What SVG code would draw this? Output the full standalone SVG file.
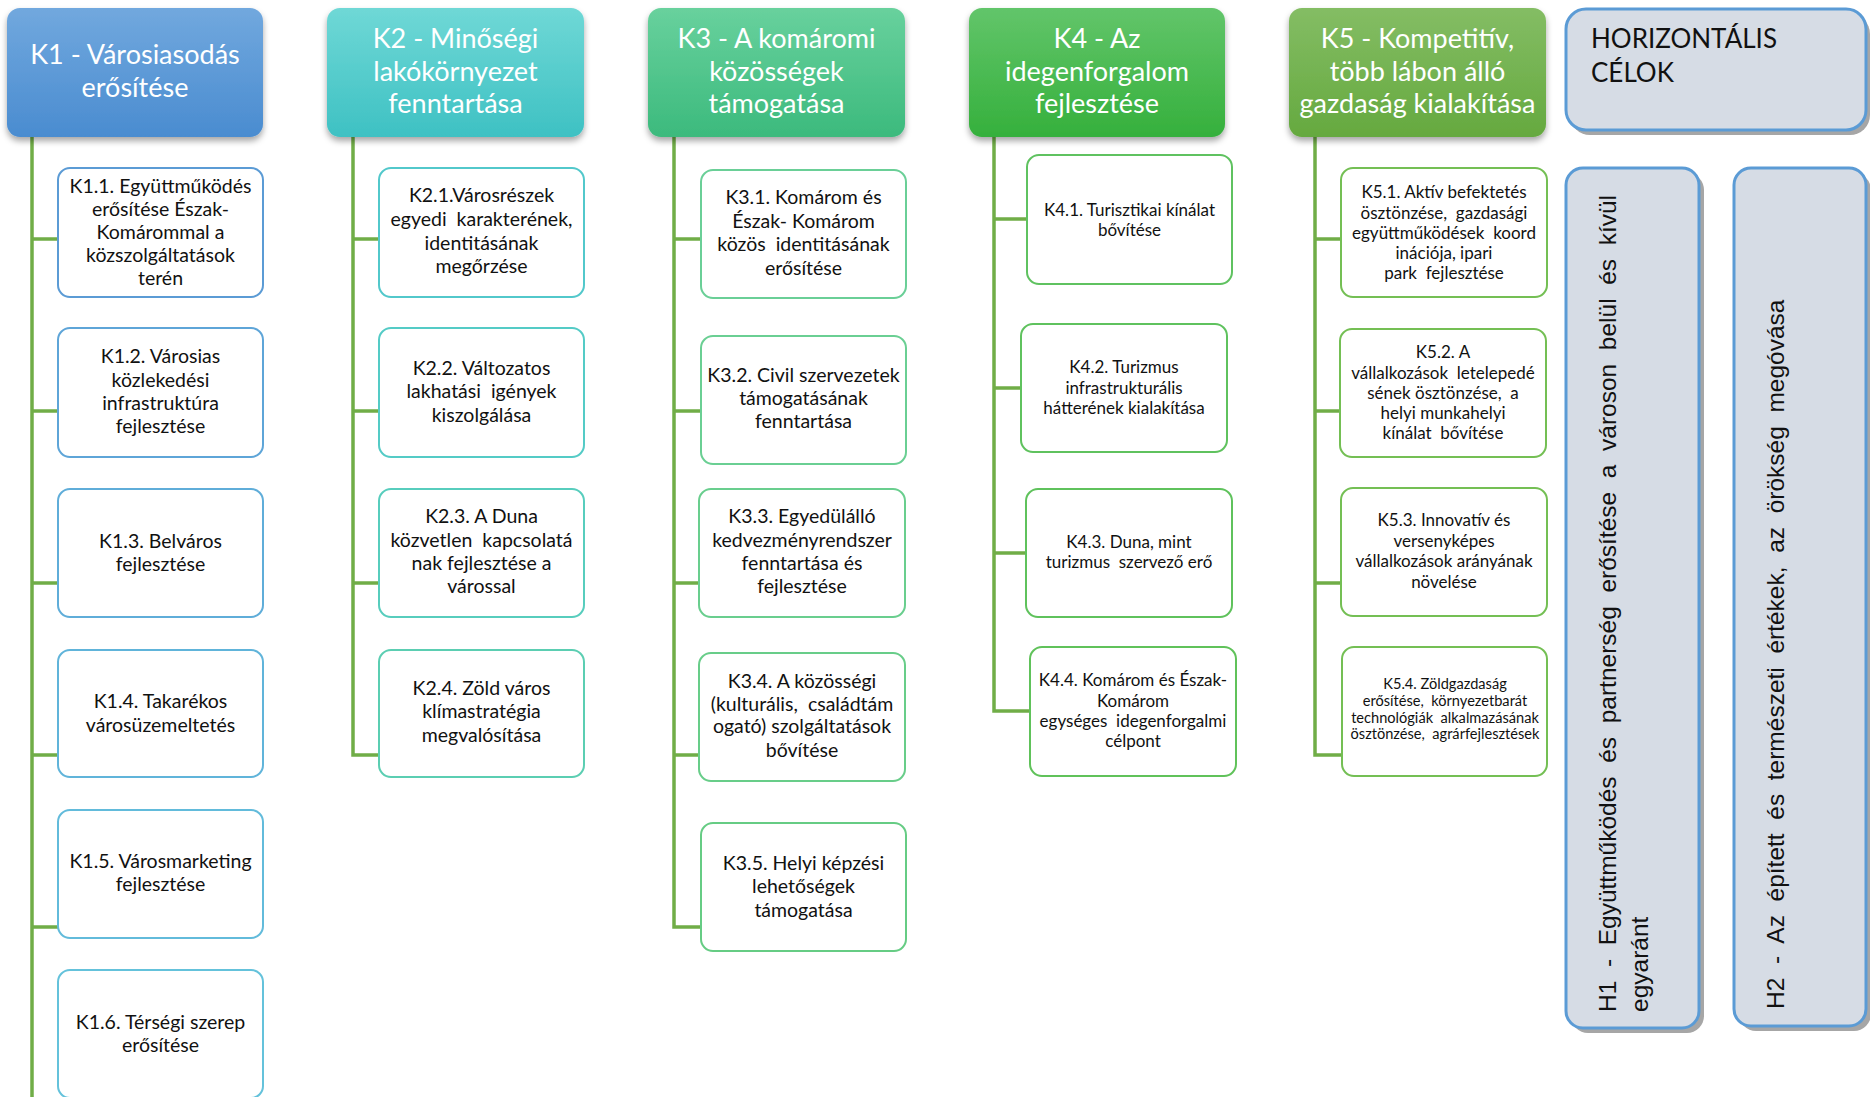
<svg xmlns="http://www.w3.org/2000/svg" width="1870" height="1097" viewBox="0 0 1870 1097" xml:space="preserve">
<defs>
<linearGradient id="g1" x1="0" y1="0" x2="0" y2="1"><stop offset="0" stop-color="#71a8de"/><stop offset="1" stop-color="#4a8cd0"/></linearGradient>
<linearGradient id="g2" x1="0" y1="0" x2="0" y2="1"><stop offset="0" stop-color="#6fd8d6"/><stop offset="1" stop-color="#3ec1c3"/></linearGradient>
<linearGradient id="g3" x1="0" y1="0" x2="0" y2="1"><stop offset="0" stop-color="#68d19d"/><stop offset="1" stop-color="#3cba7d"/></linearGradient>
<linearGradient id="g4" x1="0" y1="0" x2="0" y2="1"><stop offset="0" stop-color="#62c56a"/><stop offset="1" stop-color="#35b03c"/></linearGradient>
<linearGradient id="g5" x1="0" y1="0" x2="0" y2="1"><stop offset="0" stop-color="#84bd64"/><stop offset="1" stop-color="#65a93f"/></linearGradient>
<filter id="sh" x="-10%" y="-10%" width="120%" height="130%"><feDropShadow dx="0" dy="4" stdDeviation="3" flood-color="#000" flood-opacity="0.35"/></filter>
</defs>
<style>
text{white-space:pre}
.hd{stroke:none;filter:url(#sh)}
.ht{font-family:Lato,"Open Sans",sans-serif;font-size:27px;fill:#fff;text-anchor:middle}
.bx{fill:#fff;stroke-width:2}
.t{font-family:Lato,"Open Sans",sans-serif;font-size:19.5px;fill:#111;text-anchor:middle}
.s{font-size:17px}
.xs{font-size:14.6px}
.cn{stroke:#70ad47;stroke-width:3.5;fill:none}
.hz{fill:#d6dce5;stroke:#5b9bd5;stroke-width:3}
.hzs{fill:#a6a6a6}
.hzt{font-family:Lato,"Open Sans",sans-serif;font-size:26px;fill:#111}
.vt{font-family:"Liberation Sans",Arial,sans-serif;font-size:24.5px;fill:#111}
</style>
<rect width="1870" height="1097" fill="#fff"/>
<g id="connectors">
<path class="cn" d="M32 137V1097M32 239H58M32 411H58M32 583H58M32 755H58M32 927H58"/>
<path class="cn" d="M353 137V755H379M353 239H379M353 411H379M353 583H379"/>
<path class="cn" d="M674 137V927H701M674 239H701M674 411H701M674 583H699M674 755H699"/>
<path class="cn" d="M994 137V711H1030M994 219H1027M994 388H1021M994 553H1026"/>
<path class="cn" d="M1315 137V755H1342M1315 239H1341M1315 411H1340M1315 583H1341"/>
</g>
<g id="K1">
<rect class="hd" x="7" y="8" width="256" height="129" rx="13" fill="url(#g1)"/>
<text class="ht"><tspan x="135" y="64">K1 - Városiasodás</tspan><tspan x="135" y="97">erősítése</tspan></text>
</g>
<g id="K2">
<rect class="hd" x="327" y="8" width="257" height="129" rx="13" fill="url(#g2)"/>
<text class="ht"><tspan x="455.5" y="48">K2 - Minőségi</tspan><tspan x="455.5" y="81">lakókörnyezet</tspan><tspan x="455.5" y="113">fenntartása</tspan></text>
</g>
<g id="K3">
<rect class="hd" x="648" y="8" width="257" height="129" rx="13" fill="url(#g3)"/>
<text class="ht"><tspan x="776.5" y="48">K3 - A komáromi</tspan><tspan x="776.5" y="81">közösségek</tspan><tspan x="776.5" y="113">támogatása</tspan></text>
</g>
<g id="K4">
<rect class="hd" x="969" y="8" width="256" height="129" rx="13" fill="url(#g4)"/>
<text class="ht"><tspan x="1097" y="48">K4 - Az</tspan><tspan x="1097" y="81">idegenforgalom</tspan><tspan x="1097" y="113">fejlesztése</tspan></text>
</g>
<g id="K5">
<rect class="hd" x="1289" y="8" width="257" height="129" rx="13" fill="url(#g5)"/>
<text class="ht"><tspan x="1417.5" y="48">K5 - Kompetitív,</tspan><tspan x="1417.5" y="81">több lábon álló</tspan><tspan x="1417.5" y="113">gazdaság kialakítása</tspan></text>
</g>
<g id="K1.1"><rect class="bx" x="58" y="168" width="205" height="129" rx="12" stroke="#5b9bd5"/>
<text class="t"><tspan x="160.5" y="192.7">K1.1. Együttműködés</tspan><tspan x="160.5" y="215.5">erősítése Észak-</tspan><tspan x="160.5" y="238.5">Komárommal a</tspan><tspan x="160.5" y="261.7">közszolgáltatások</tspan><tspan x="160.5" y="285">terén</tspan></text></g>
<g id="K1.2"><rect class="bx" x="58" y="328" width="205" height="129" rx="12" stroke="#5ea5d8"/>
<text class="t"><tspan x="160.5" y="363.3">K1.2. Városias</tspan><tspan x="160.5" y="386.7">közlekedési</tspan><tspan x="160.5" y="410.3">infrastruktúra</tspan><tspan x="160.5" y="433.3">fejlesztése</tspan></text></g>
<g id="K1.3"><rect class="bx" x="58" y="489" width="205" height="128" rx="12" stroke="#5fadd9"/>
<text class="t"><tspan x="160.5" y="547.7">K1.3. Belváros</tspan><tspan x="160.5" y="570.5">fejlesztése</tspan></text></g>
<g id="K1.4"><rect class="bx" x="58" y="650" width="205" height="127" rx="12" stroke="#60b4da"/>
<text class="t"><tspan x="160.5" y="707.7">K1.4. Takarékos</tspan><tspan x="160.5" y="731.5">városüzemeltetés</tspan></text></g>
<g id="K1.5"><rect class="bx" x="58" y="810" width="205" height="128" rx="12" stroke="#62bbdb"/>
<text class="t"><tspan x="160.5" y="867.7">K1.5. Városmarketing</tspan><tspan x="160.5" y="890.7">fejlesztése</tspan></text></g>
<g id="K1.6"><rect class="bx" x="58" y="970" width="205" height="128" rx="12" stroke="#64c2db"/>
<text class="t"><tspan x="160.5" y="1029.3">K1.6. Térségi szerep</tspan><tspan x="160.5" y="1051.5">erősítése</tspan></text></g>
<g id="K2.1"><rect class="bx" x="379" y="168" width="205" height="129" rx="12" stroke="#52c8cb"/>
<text class="t"><tspan x="481.5" y="202.3">K2.1.Városrészek</tspan><tspan x="481.5" y="226">egyedi  karakterének,</tspan><tspan x="481.5" y="249.7">identitásának</tspan><tspan x="481.5" y="273.3">megőrzése</tspan></text></g>
<g id="K2.2"><rect class="bx" x="379" y="328" width="205" height="129" rx="12" stroke="#54cbc6"/>
<text class="t"><tspan x="481.5" y="375">K2.2. Változatos</tspan><tspan x="481.5" y="398.3">lakhatási  igények</tspan><tspan x="481.5" y="421.7">kiszolgálása</tspan></text></g>
<g id="K2.3"><rect class="bx" x="379" y="489" width="205" height="128" rx="12" stroke="#57cdbd"/>
<text class="t"><tspan x="481.5" y="523.3">K2.3. A Duna</tspan><tspan x="481.5" y="546.7">közvetlen  kapcsolatá</tspan><tspan x="481.5" y="570">nak fejlesztése a</tspan><tspan x="481.5" y="593.3">várossal</tspan></text></g>
<g id="K2.4"><rect class="bx" x="379" y="650" width="205" height="127" rx="12" stroke="#5bceb2"/>
<text class="t"><tspan x="481.5" y="695">K2.4. Zöld város</tspan><tspan x="481.5" y="718.3">klímastratégia</tspan><tspan x="481.5" y="741.7">megvalósítása</tspan></text></g>
<g id="K3.1"><rect class="bx" x="701" y="170" width="205" height="128" rx="12" stroke="#6acf97"/>
<text class="t"><tspan x="803.5" y="204">K3.1. Komárom és</tspan><tspan x="803.5" y="227.5">Észak- Komárom</tspan><tspan x="803.5" y="250.7">közös  identitásának</tspan><tspan x="803.5" y="274.5">erősítése</tspan></text></g>
<g id="K3.2"><rect class="bx" x="701" y="336" width="205" height="128" rx="12" stroke="#6acf93"/>
<text class="t"><tspan x="803.5" y="381.7">K3.2. Civil szervezetek</tspan><tspan x="803.5" y="405">támogatásának</tspan><tspan x="803.5" y="428.3">fenntartása</tspan></text></g>
<g id="K3.3"><rect class="bx" x="699" y="489" width="206" height="128" rx="12" stroke="#69ce8e"/>
<text class="t"><tspan x="802" y="523.3">K3.3. Egyedülálló</tspan><tspan x="802" y="546.7">kedvezményrendszer</tspan><tspan x="802" y="570">fenntartása és</tspan><tspan x="802" y="593.3">fejlesztése</tspan></text></g>
<g id="K3.4"><rect class="bx" x="699" y="653" width="206" height="128" rx="12" stroke="#68cd89"/>
<text class="t"><tspan x="802" y="687.7">K3.4. A közösségi</tspan><tspan x="802" y="711">(kulturális,  családtám</tspan><tspan x="802" y="733.3">ogató) szolgáltatások</tspan><tspan x="802" y="756.7">bővítése</tspan></text></g>
<g id="K3.5"><rect class="bx" x="701" y="823" width="205" height="128" rx="12" stroke="#66cc84"/>
<text class="t"><tspan x="803.5" y="870">K3.5. Helyi képzési</tspan><tspan x="803.5" y="893.3">lehetőségek</tspan><tspan x="803.5" y="916.7">támogatása</tspan></text></g>
<g id="K4.1"><rect class="bx" x="1027" y="155" width="205" height="129" rx="12" stroke="#5fc260"/>
<text class="t s"><tspan x="1129.5" y="216">K4.1. Turisztikai kínálat</tspan><tspan x="1129.5" y="235.5">bővítése</tspan></text></g>
<g id="K4.2"><rect class="bx" x="1021" y="324" width="206" height="128" rx="12" stroke="#5fc25e"/>
<text class="t s"><tspan x="1124" y="373.3">K4.2. Turizmus</tspan><tspan x="1124" y="394">infrastrukturális</tspan><tspan x="1124" y="414.3">hátterének kialakítása</tspan></text></g>
<g id="K4.3"><rect class="bx" x="1026" y="489" width="206" height="128" rx="12" stroke="#5fc25c"/>
<text class="t s"><tspan x="1129" y="547.7">K4.3. Duna, mint</tspan><tspan x="1129" y="568.3">turizmus  szervező erő</tspan></text></g>
<g id="K4.4"><rect class="bx" x="1030" y="647" width="206" height="129" rx="12" stroke="#60c25a"/>
<text class="t s"><tspan x="1133" y="685.7">K4.4. Komárom és Észak-</tspan><tspan x="1133" y="706.7">Komárom</tspan><tspan x="1133" y="727">egységes  idegenforgalmi</tspan><tspan x="1133" y="747.3">célpont</tspan></text></g>
<g id="K5.1"><rect class="bx" x="1341" y="168" width="206" height="129" rx="12" stroke="#74bf54"/>
<text class="t s"><tspan x="1444" y="198">K5.1. Aktív befektetés</tspan><tspan x="1444" y="218.5">ösztönzése,  gazdasági</tspan><tspan x="1444" y="238.7">együttműködések  koord</tspan><tspan x="1444" y="259">inációja, ipari</tspan><tspan x="1444" y="279">park  fejlesztése</tspan></text></g>
<g id="K5.2"><rect class="bx" x="1340" y="329" width="206" height="128" rx="12" stroke="#74bf54"/>
<text class="t s"><tspan x="1443" y="358">K5.2. A</tspan><tspan x="1443" y="378.5">vállalkozások  letelepedé</tspan><tspan x="1443" y="399">sének ösztönzése,  a</tspan><tspan x="1443" y="419.3">helyi munkahelyi</tspan><tspan x="1443" y="439.3">kínálat  bővítése</tspan></text></g>
<g id="K5.3"><rect class="bx" x="1341" y="488" width="206" height="128" rx="12" stroke="#74bf54"/>
<text class="t s"><tspan x="1444" y="526">K5.3. Innovatív és</tspan><tspan x="1444" y="547">versenyképes</tspan><tspan x="1444" y="567">vállalkozások arányának</tspan><tspan x="1444" y="587.7">növelése</tspan></text></g>
<g id="K5.4"><rect class="bx" x="1342" y="647" width="205" height="129" rx="12" stroke="#74bf54"/>
<text class="t xs"><tspan x="1445" y="689.3">K5.4. Zöldgazdaság</tspan><tspan x="1445" y="706">erősítése,  környezetbarát</tspan><tspan x="1445" y="722.7">technológiák  alkalmazásának</tspan><tspan x="1445" y="739.3">ösztönzése,  agrárfejlesztések</tspan></text></g>
<g id="HORIZ">
<rect class="hzs" x="1570" y="14" width="300" height="121" rx="20"/>
<rect class="hz" x="1566" y="9" width="300" height="121" rx="20"/>
<text class="hzt"><tspan x="1591" y="48">HORIZONTÁLIS</tspan><tspan x="1591" y="82">CÉLOK</tspan></text>
</g>
<g id="H1">
<rect class="hzs" x="1571" y="173" width="133" height="860" rx="17"/>
<rect class="hz" x="1566" y="168" width="133" height="860" rx="17"/>
<text class="vt" transform="translate(1616,1012) rotate(-90)"><tspan x="0" y="0">H1  -  Együttműködés  és  partnerség  erősítése  a  városon  belül  és  kívül</tspan><tspan x="0" y="32">egyaránt</tspan></text>
</g>
<g id="H2">
<rect class="hzs" x="1739" y="173" width="132" height="858" rx="17"/>
<rect class="hz" x="1734" y="168" width="132" height="858" rx="17"/>
<text class="vt" transform="translate(1784,1009) rotate(-90)"><tspan x="0" y="0">H2  -  Az  épített  és  természeti  értékek,  az  örökség  megóvása</tspan></text>
</g>
</svg>
